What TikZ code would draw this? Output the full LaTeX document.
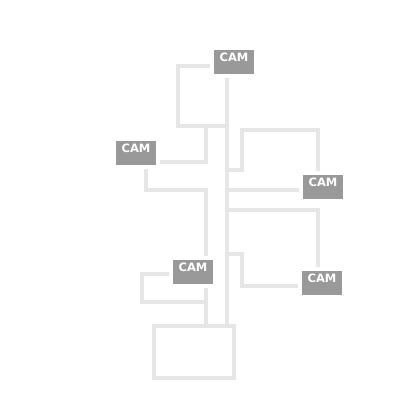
\documentclass[tikz,border=0pt]{standalone}
\usepackage{fontspec}
\setsansfont{DejaVu Sans}
\definecolor{camgray}{HTML}{999999}
\definecolor{wiregray}{HTML}{E6E6E6}
\tikzset{
    %Define style for camera boxes
    cam/.style={
           rectangle,
           fill=camgray,
           text=white,
           font=\sffamily\bfseries\fontsize{11.5}{13}\selectfont,
           inner sep=0pt,
           minimum width=40pt,
           text height=11.5pt,
           text depth=12.5pt},
    %Define style for the recorder box
    rec/.style={
           rectangle,
           draw=wiregray,
           line width=4pt,
           minimum width=80pt,
           minimum height=52pt},
    % Define cable style
    wire/.style={
           draw=wiregray,
           line width=4pt}
}
\begin{document}
\begin{tikzpicture}[x=1pt,y=-1pt]
 \useasboundingbox (0,0) rectangle (400,400);
 %nodes
    \node[cam] (camtop) at (234,62) {CAM};
    \node[cam] (camleft) at (136,153) {CAM};
    \node[cam] (camright) at (323,187) {CAM};
    \node[cam] (cammid) at (193,272) {CAM};
    \node[cam] (camlow) at (322,283) {CAM};
    \node[rec] (recorder) at (194,352) {};
    \coordinate (trunk) at (227,78);
 %edges
    \draw[wire] (trunk) -- (recorder.north -| trunk);
    \draw[wire] ([xshift=-4pt,yshift=-4pt]camtop.west) -| (178,126) -- (227,126);
    \draw[wire] (206,126) |- ([xshift=4pt,yshift=-9pt]camleft.east);
    \draw[wire] ([xshift=10pt,yshift=-4pt]camleft.south) |- (206,190) -- ([xshift=13pt,yshift=4pt]cammid.north);
    \draw[wire] ([xshift=-4pt,yshift=-2pt]cammid.west) -| (142,302) -- (206,302);
    \draw[wire] ([xshift=13pt,yshift=-4pt]cammid.south) -- (recorder.north -| 206,0);
    \draw[wire] (227,170) -| (242,130) -| ([xshift=-5pt,yshift=4pt]camright.north);
    \draw[wire] (227,190) -- ([xshift=-4pt,yshift=-3pt]camright.west);
    \draw[wire] (227,210) -| ([xshift=-4pt,yshift=4pt]camlow.north);
    \draw[wire] (227,254) -| (242,286) -- ([xshift=-4pt,yshift=-3pt]camlow.west);
  \end{tikzpicture}
\end{document}
